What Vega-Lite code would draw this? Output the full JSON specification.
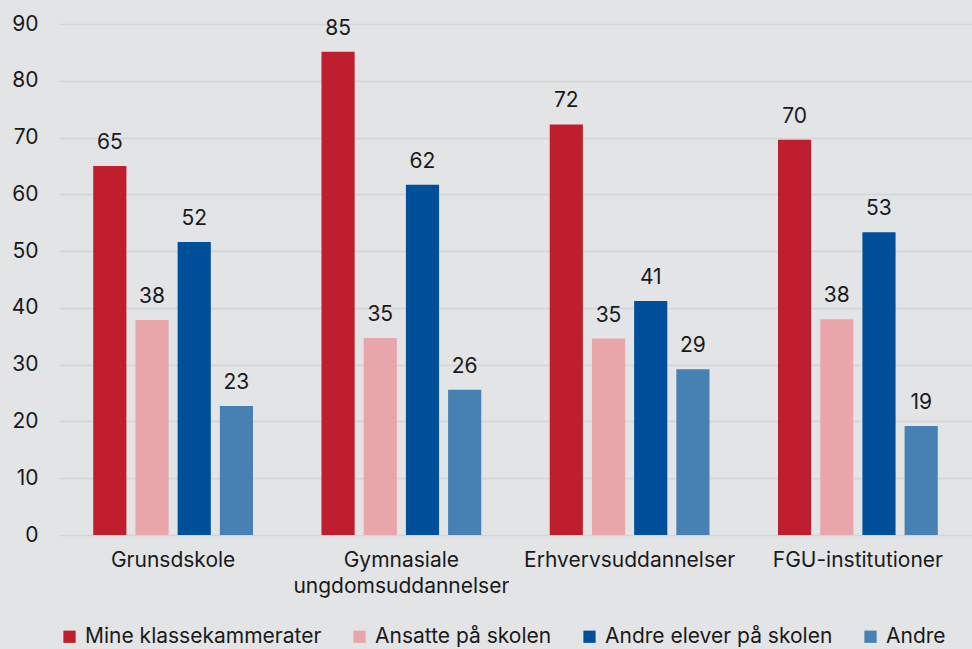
{
  "$schema": "https://vega.github.io/schema/vega-lite/v6.json",
  "autosize": {"type": "fit", "contains": "padding"},
  "width": 972,
  "height": 649,
  "padding": {"left": 11, "right": 0, "top": 13, "bottom": 2},
  "background": "#e3e4e6",
  "config": {
    "view": {"stroke": null},
    "font": "Inter",
    "axis": {"labelFont": "Inter", "labelFontSize": 21, "labelColor": "#1a1a1a"},
    "legend": {"labelFont": "Inter", "labelFontSize": 21, "labelColor": "#1a1a1a"}
  },
  "data": {
    "values": [
      {"skole": "Grunsdskole", "gruppe": "Mine klassekammerater", "v": 65.0},
      {"skole": "Grunsdskole", "gruppe": "Ansatte på skolen", "v": 37.85},
      {"skole": "Grunsdskole", "gruppe": "Andre elever på skolen", "v": 51.6},
      {"skole": "Grunsdskole", "gruppe": "Andre", "v": 22.7},
      {"skole": "Gymnasiale ungdomsuddannelser", "gruppe": "Mine klassekammerater", "v": 85.1},
      {"skole": "Gymnasiale ungdomsuddannelser", "gruppe": "Ansatte på skolen", "v": 34.7},
      {"skole": "Gymnasiale ungdomsuddannelser", "gruppe": "Andre elever på skolen", "v": 61.7},
      {"skole": "Gymnasiale ungdomsuddannelser", "gruppe": "Andre", "v": 25.6},
      {"skole": "Erhvervsuddannelser", "gruppe": "Mine klassekammerater", "v": 72.3},
      {"skole": "Erhvervsuddannelser", "gruppe": "Ansatte på skolen", "v": 34.6},
      {"skole": "Erhvervsuddannelser", "gruppe": "Andre elever på skolen", "v": 41.2},
      {"skole": "Erhvervsuddannelser", "gruppe": "Andre", "v": 29.2},
      {"skole": "FGU-institutioner", "gruppe": "Mine klassekammerater", "v": 69.6},
      {"skole": "FGU-institutioner", "gruppe": "Ansatte på skolen", "v": 38.0},
      {"skole": "FGU-institutioner", "gruppe": "Andre elever på skolen", "v": 53.3},
      {"skole": "FGU-institutioner", "gruppe": "Andre", "v": 19.2}
    ]
  },
  "encoding": {
    "x": {
      "field": "skole", "type": "nominal", "sort": null, "title": null,
      "scale": {"paddingInner": 0.3, "paddingOuter": 0.15},
      "axis": {
        "labelAngle": 0, "domain": false, "ticks": false, "labelPadding": 14,
        "labelLineHeight": 26, "labelLimit": 300,
        "labelExpr": "datum.value == 'Gymnasiale ungdomsuddannelser' ? ['Gymnasiale', 'ungdomsuddannelser'] : datum.label"
      }
    },
    "xOffset": {
      "field": "gruppe", "type": "nominal",
      "sort": ["Mine klassekammerater", "Ansatte på skolen", "Andre elever på skolen", "Andre"],
      "scale": {"paddingInner": 0.214, "paddingOuter": 0}
    },
    "y": {
      "field": "v", "type": "quantitative", "title": null,
      "scale": {"domain": [0, 90]},
      "axis": {
        "values": [0, 10, 20, 30, 40, 50, 60, 70, 80, 90],
        "domain": false, "ticks": false, "labelPadding": 21,
        "gridColor": "#d3d4d7", "gridWidth": 1.5
      }
    }
  },
  "layer": [
    {
      "mark": {"type": "bar"},
      "encoding": {
        "color": {
          "field": "gruppe", "type": "nominal", "title": null,
          "sort": ["Mine klassekammerater", "Ansatte på skolen", "Andre elever på skolen", "Andre"],
          "scale": {
            "domain": ["Mine klassekammerater", "Ansatte på skolen", "Andre elever på skolen", "Andre"],
            "range": ["#be1e2e", "#e8a6ab", "#004f9a", "#4781b4"]
          },
          "legend": {
            "orient": "bottom", "direction": "horizontal", "columns": 4,
            "symbolType": "square", "symbolSize": 150, "symbolStrokeWidth": 0,
            "columnPadding": 27, "labelOffset": 5, "labelLimit": 400, "offset": 30
          }
        }
      }
    },
    {
      "mark": {"type": "text", "baseline": "bottom", "dy": -13, "fontSize": 21, "color": "#1a1a1a", "font": "Inter"},
      "encoding": {
        "text": {"field": "v", "type": "quantitative", "format": ".0f"}
      }
    }
  ]
}
